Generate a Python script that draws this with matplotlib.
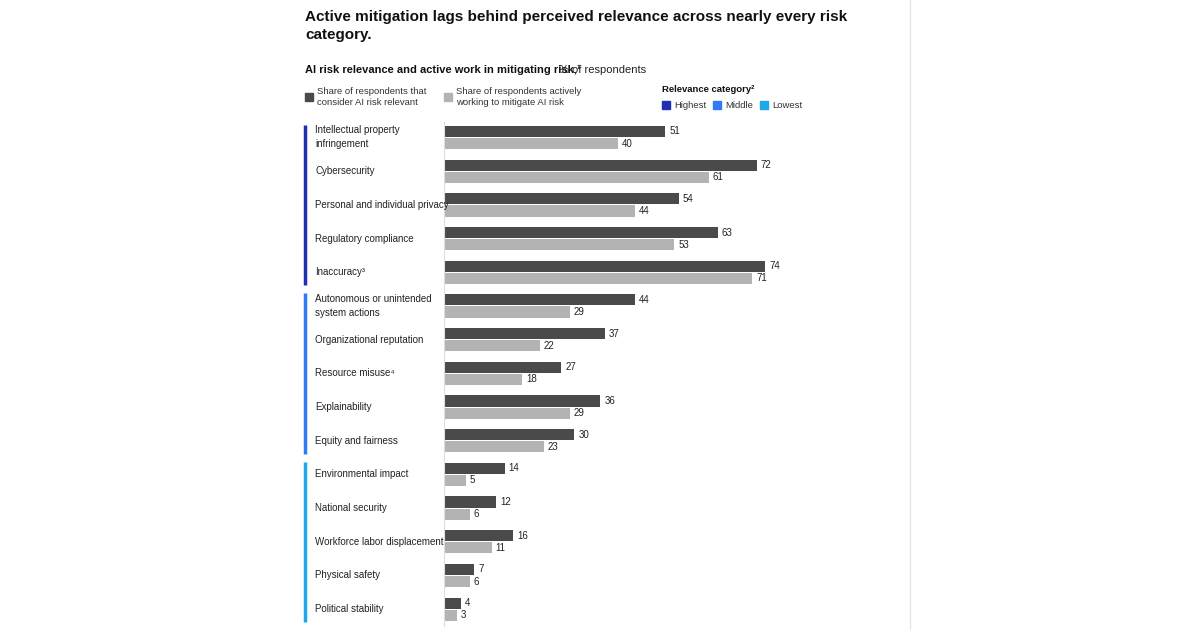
import matplotlib
matplotlib.use("Agg")
import matplotlib.pyplot as plt
import matplotlib.transforms as mtransforms

categories = ["Intellectual property\ninfringement", "Cybersecurity", "Personal and individual privacy",
              "Regulatory compliance", "Inaccuracy³", "Autonomous or unintended\nsystem actions",
              "Organizational reputation", "Resource misuse⁴", "Explainability", "Equity and fairness",
              "Environmental impact", "National security", "Workforce labor displacement",
              "Physical safety", "Political stability"]
relevant = [51, 72, 54, 63, 74, 44, 37, 27, 36, 30, 14, 12, 16, 7, 4]
mitigating = [40, 61, 44, 53, 71, 29, 22, 18, 29, 23, 5, 6, 11, 6, 3]
groups = ["Highest", "Middle", "Lowest"]
group_rows = [(0, 4), (5, 9), (10, 14)]
group_colors = ["#1f2fb5", "#2f7bf5", "#1ea8ea"]
DARK, LIGHT = "#4a4a4a", "#b3b3b3"

plt.rcParams['font.family'] = ['Liberation Sans', 'DejaVu Sans']
fig = plt.figure(figsize=(12, 6.3), dpi=100)
W, H = 1200, 630
ax = fig.add_axes([444/W, (H-626)/H, 456/W, (626-122)/H])
n = len(categories)
y = list(range(n))
ax.barh([i-0.18 for i in y], relevant, height=0.33, color=DARK)
ax.barh([i+0.18 for i in y], mitigating, height=0.33, color=LIGHT)
for i in y:
    ax.text(relevant[i]+0.9, i-0.18, str(relevant[i]), va='center', fontsize=7, color='#222')
    ax.text(mitigating[i]+0.9, i+0.18, str(mitigating[i]), va='center', fontsize=7, color='#222')
ax.set_xlim(0, 105)
ax.set_ylim(14.5, -0.46)
for s in ['top', 'right', 'bottom']:
    ax.spines[s].set_visible(False)
ax.spines['left'].set_color('#dddddd')
ax.set_xticks([]); ax.set_yticks([])

tr = mtransforms.blended_transform_factory(fig.transFigure, ax.transData)
for i, c in enumerate(categories):
    fig.text(315/W, 0, c, transform=tr, fontsize=7, va='center', ha='left', color='#222',
             linespacing=1.5).set_y(i)
for (a, b), col in zip(group_rows, group_colors):
    ax.plot([305/W, 305/W], [a-0.38, b+0.38], transform=tr, color=col, lw=2.5,
             clip_on=False, solid_capstyle='butt')

fig.text(305/W, 1-10/H, "Active mitigation lags behind perceived relevance across nearly every risk\ncategory.",
         fontsize=11, weight='bold', va='top', color='#111', linespacing=1.4)
fig.text(305/W, 1-70/H, "AI risk relevance and active work in mitigating risk,¹", fontsize=8,
         weight='bold', va='center', color='#111')
fig.text(559/W, 1-70/H, "% of respondents", fontsize=8, va='center', color='#222')

def sq(x, yc, col):
    fig.patches.append(plt.Rectangle((x/W, 1-(yc+4)/H), 8/W, 8/H, transform=fig.transFigure, color=col))
sq(305, 97, DARK)
fig.text(317/W, 1-97/H, "Share of respondents that\nconsider AI risk relevant", fontsize=6.8, va='center', color='#333')
sq(444, 97, LIGHT)
fig.text(456/W, 1-97/H, "Share of respondents actively\nworking to mitigate AI risk", fontsize=6.8, va='center', color='#333')
fig.text(662/W, 1-90/H, "Relevance category²", fontsize=6.8, weight='bold', va='center', color='#111')
for xg, g, col in zip([662, 713, 760], groups, group_colors):
    sq(xg, 105, col)
    fig.text((xg+12)/W, 1-105/H, g, fontsize=6.8, va='center', color='#333')
fig.add_artist(plt.Line2D([910/W, 910/W], [0, 1], color='#e6e6e6', lw=1))
fig.savefig("out.png", dpi=100)
